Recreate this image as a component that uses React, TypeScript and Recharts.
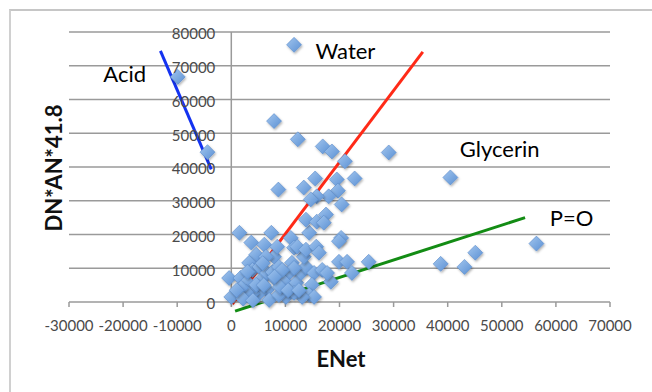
import React from 'react';
import { ScatterChart, Scatter, XAxis, YAxis, ReferenceLine, ReferenceDot } from 'recharts';

const xTicks = [-30000, -20000, -10000, 0, 10000, 20000, 30000, 40000, 50000, 60000, 70000];
const yTicks = [0, 10000, 20000, 30000, 40000, 50000, 60000, 70000, 80000];

// ENet (x) and DN*AN*41.8 (y)
const enet = [
  -9900, -4400, 11600,
  7900, 12300, 16900, 18600, 21000, 15500, 19500, 22800, 8700, 13400, 19700, 18000, 15800, 14700, 20400,
  29100, 40500, 56400, 45100, 38700, 43100,
  -400, 0, 1700, 1500, 3700, 4600, 3300, 3900, 5200, 2900, 5500, 6600, 7600, 7400, 7900, 8800, 8300, 6600,
  5200, 3900, 2800, 7000, 10100, 11000, 11600, 11200, 10700, 9800, 12000, 12900, 13800, 13400, 12200, 13800,
  14400, 13800, 15800, 17500, 15700, 16200, 15300, 16800, 18400, 17700, 14900, 14400, 15300, 13100, 11600,
  8800, 20300, 19900, 21400, 22300, 25400, 6100, 6400, 8500, 4600, 1800, 11600, 9400, 17100, 19900,
  2200, 4000, 6000, 9000, 10500, 3000, 5800, 8000, 12500, 1000,
];
const dnan = [
  66700, 44400, 76200,
  53600, 48200, 46100, 44600, 41700, 36600, 36300, 36600, 33300, 33900, 33000, 31300, 31300, 30400, 28900,
  44300, 36900, 17300, 14600, 11300, 10400,
  7100, 1500, 7100, 20500, 17600, 14000, 11600, 9500, 10400, 6000, 6500, 8600, 8900, 20500, 13400, 10400, 6500, 3600,
  2700, 2700, 3000, 600, 1500, 19000, 16100, 11600, 8600, 6000, 5700, 8600, 10400, 13400, 16400, 15500,
  20500, 24400, 23800, 25900, 16400, 14600, 8600, 9500, 6000, 8600, 5100, 2100, 1500, 1500, 2700,
  2100, 19000, 11900, 11900, 8600, 11900, 17000, 13400, 16400, 5100, 4200, 10100, 9500, 23500, 18000,
  1000, 500, 5000, 4500, 3500, 9000, 11500, 7500, 3500, 3500,
];
const points = enet.map((x, i) => ({ x, y: dnan[i] }));

const acidLine = [{ x: -13100, y: 74400 }, { x: -3700, y: 39300 }];
const waterLine = [{ x: 200, y: -600 }, { x: 35400, y: 74100 }];
const poLine = [{ x: 700, y: -2700 }, { x: 54300, y: 25000 }];

const notes = [
  { text: 'Acid', x: -19700, y: 67400 },
  { text: 'Water', x: 21100, y: 74200 },
  { text: 'Glycerin', x: 49600, y: 45200 },
  { text: 'P=O', x: 62900, y: 24700 },
];

const font = 'Lato, "Open Sans", sans-serif';

const Diamond = (props: any) => {
  const { cx, cy } = props;
  const r = 7.5;
  return (
    <polygon
      points={`${cx},${cy - r} ${cx + r},${cy} ${cx},${cy + r} ${cx - r},${cy}`}
      fill="url(#dgrad)"
      stroke="#5a8bcb"
      strokeWidth={0.6}
      filter="url(#dshadow)"
    />
  );
};

export default function App() {
  return (
    <div style={{ position: 'absolute', left: 0, top: 0, width: 652, height: 392, background: '#fff', overflow: 'hidden' }}>
      <svg width={0} height={0} style={{ position: 'absolute' }}>
        <defs>
          <linearGradient id="dgrad" x1="0" y1="0" x2="1" y2="1">
            <stop offset="0%" stopColor="#a3c6ee" />
            <stop offset="100%" stopColor="#5a90d4" />
          </linearGradient>
          <filter id="dshadow" x="-50%" y="-50%" width="200%" height="200%">
            <feDropShadow dx="1" dy="1.5" stdDeviation="1" floodColor="#000" floodOpacity="0.3" />
          </filter>
        </defs>
      </svg>
      <div style={{ position: 'absolute', left: 9, top: 9, width: 700, height: 450, borderTop: '2px solid #c6c6c6', borderLeft: '2px solid #d0d0d0' }} />
      <div style={{ position: 'absolute', left: 0, top: 0 }}>
        <ScatterChart width={652} height={392} margin={{ top: 32, right: 42, left: 69, bottom: 50 }}>
          <XAxis
            dataKey="x"
            type="number"
            domain={[-30000, 70000]}
            ticks={xTicks}
            interval={0}
            height={40}
            allowDataOverflow
            axisLine={{ stroke: '#9a9a9a', strokeWidth: 1.5 }}
            tickLine={{ stroke: '#9a9a9a', strokeWidth: 1.5 }}
            tickSize={5}
            tickMargin={13}
            tick={{ fill: '#4a4a4a', fontSize: 15, fontFamily: font }}
          />
          <YAxis dataKey="y" type="number" domain={[0, 80000]} ticks={yTicks} hide />
          {yTicks.slice(1).map((v) => (
            <ReferenceLine key={v} y={v} stroke="#9a9a9a" strokeWidth={1.5} />
          ))}
          <ReferenceLine segment={[{ x: 0, y: 0 }, { x: 0, y: 80000 }]} stroke="#9a9a9a" strokeWidth={1.5} />
          {yTicks.map((v) => (
            <ReferenceDot
              key={'l' + v}
              x={0}
              y={v}
              r={0}
              fill="none"
              stroke="none"
              label={{ value: String(v), position: 'left', offset: 16, dy: 2, fill: '#4a4a4a', fontSize: 15, fontFamily: font }}
            />
          ))}
          <Scatter data={points} shape={<Diamond />} isAnimationActive={false} />
          <ReferenceLine segment={acidLine} stroke="#1432f0" strokeWidth={3} ifOverflow="visible" />
          <ReferenceLine segment={waterLine} stroke="#ff2a17" strokeWidth={3} ifOverflow="visible" />
          <ReferenceLine segment={poLine} stroke="#138c14" strokeWidth={3} ifOverflow="visible" />
          {notes.map((n) => (
            <ReferenceDot
              key={n.text}
              x={n.x}
              y={n.y}
              r={0}
              fill="none"
              stroke="none"
              ifOverflow="visible"
              label={{ value: n.text, position: 'center', fill: '#000', fontSize: 22, fontFamily: font }}
            />
          ))}
        </ScatterChart>
      </div>
      <svg width={652} height={392} style={{ position: 'absolute', left: 0, top: 0, pointerEvents: 'none' }}>
        <text x={341} y={367} textAnchor="middle" fontFamily={font} fontWeight="bold" fontSize={22} fill="#111">ENet</text>
        <text transform="translate(62,168) rotate(-90)" textAnchor="middle" fontFamily={font} fontWeight="bold" fontSize={22} fill="#111">DN*AN*41.8</text>
      </svg>
    </div>
  );
}
